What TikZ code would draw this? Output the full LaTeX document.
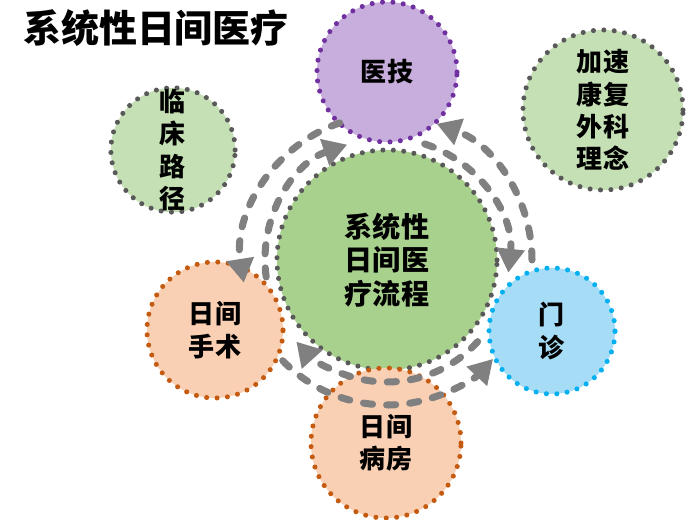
\documentclass[tikz,border=0pt]{standalone}
\usepackage{fontspec}
\usepackage{xcolor}
\usepackage{tikz}
\usetikzlibrary{arrows.meta}
\newfontfamily\cjk{Noto Sans CJK SC}
\definecolor{coregrn}{HTML}{A9D18E}
\definecolor{litegrn}{HTML}{C5E0B4}
\definecolor{greydot}{HTML}{595959}
\definecolor{lilac}{HTML}{C7AEDC}
\definecolor{purpdot}{HTML}{7030A0}
\definecolor{peach}{HTML}{F9D0B4}
\definecolor{orngdot}{HTML}{C55A11}
\definecolor{skyblue}{HTML}{A6DCF6}
\definecolor{bluedot}{HTML}{00B0F0}
\definecolor{arrgrey}{HTML}{808080}
\tikzset{
  bub/.style={circle, inner sep=0pt, align=center, line width=3.6pt,
    dash pattern=on 0pt off 7.4pt, line cap=round,
    font=\cjk\bfseries\fontsize{18.5}{23}\selectfont},
  grnbub/.style={bub, draw=greydot, fill=litegrn},
  purbub/.style={bub, draw=purpdot, fill=lilac},
  orbub/.style={bub, draw=orngdot, fill=peach},
  blubub/.style={bub, draw=bluedot, fill=skyblue},
  flow/.style={draw=arrgrey, line width=5pt, line cap=round,
    dash pattern=on 6.5pt off 10pt, -{Triangle[length=17pt,width=19pt]}},
  ttl/.style={font=\cjk\bfseries\fontsize{27}{32}\selectfont, inner sep=0pt}
}
\begin{document}
\begin{tikzpicture}[x=0.025cm,y=0.025cm]
  \def\ri{122}
  \def\ro{145}
  \useasboundingbox (0,0) rectangle (693,520);

  \node[ttl] (title) at (156,492) {系统性日间医疗};

  \node[grnbub, fill=coregrn, minimum size=5.5cm,
    font=\cjk\bfseries\fontsize{20}{24}\selectfont] (core) at (387,260) {系统性\\日间医\\疗流程};
  \node[purbub, minimum size=3.5cm] (yiji) at (387,448) {医技};
  \node[grnbub, minimum size=4cm] (erasc) at (603,410) {加速\\康复\\外科\\理念};
  \node[grnbub, minimum size=3.1cm] (path) at (173,370) {临\\床\\路\\径};
  \node[orbub, minimum size=3.4cm] (surg) at (215,190) {日间\\手术};
  \node[orbub, minimum size=3.75cm] (ward) at (386,77) {日间\\病房};
  \node[blubub, minimum size=3.15cm] (clinic) at (552,189) {门\\诊};

  % inner ring, clockwise
  \draw[flow] ([shift={(188:\ri)}]core.center) arc[start angle=188, end angle=109, radius=\ri];
  \draw[flow] ([shift={(72:\ri)}]core.center) arc[start angle=72, end angle=-6, radius=\ri];
  \draw[flow] ([shift={(-42:\ri)}]core.center) arc[start angle=-42, end angle=-138, radius=\ri];
  % outer ring, counter-clockwise
  \draw[flow] ([shift={(109:\ro)}]core.center) arc[start angle=109, end angle=189, radius=\ro];
  \draw[flow] ([shift={(224:\ro)}]core.center) arc[start angle=224, end angle=317, radius=\ro];
  \draw[flow] ([shift={(0:\ro)}]core.center) arc[start angle=0, end angle=70, radius=\ro];
\end{tikzpicture}
\end{document}
